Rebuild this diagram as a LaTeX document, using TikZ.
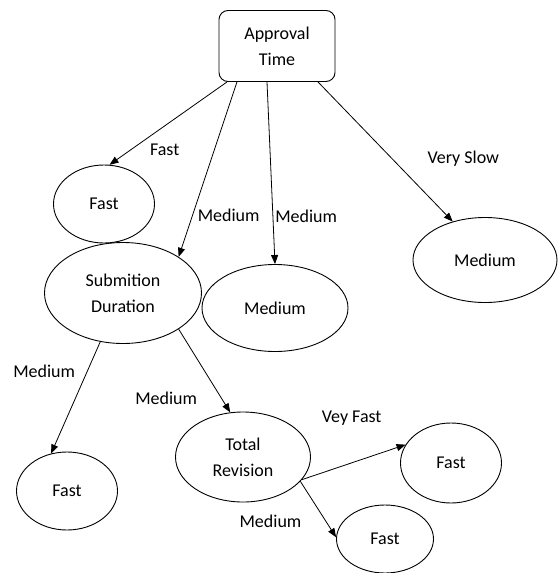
\documentclass[tikz,border=0pt]{standalone}
\usepackage{fontspec}
\setmainfont{Carlito}
\usepackage{tikz}
\usetikzlibrary{shapes.geometric, arrows.meta, positioning}

\begin{document}
\begin{tikzpicture}[
    node distance=1cm,
    top/.style={rectangle, rounded corners=9pt, minimum width=116pt, minimum height=71pt, align=center, draw=black, line width=0.9pt, font=\fontsize{18}{26}\selectfont},
    leaf/.style={ellipse, on grid, inner sep=0pt, align=center, draw=black, line width=0.9pt, font=\fontsize{18}{26}\selectfont},
    lbl/.style={inner sep=1pt, font=\fontsize{18}{22}\selectfont},
    arrow/.style={line width=0.8pt, -{Triangle[length=9pt, width=7pt]}}
]
    \useasboundingbox (0,0) rectangle (558pt,-573pt);
    \node[top] (approval) at (277pt,-46pt) {Approval\\Time};
    \node[leaf, minimum width=101pt, minimum height=78pt, below left=158pt and 173pt of approval] (fastA) {Fast};
    \node[leaf, minimum width=157pt, minimum height=101pt, below left=247pt and 154pt of approval] (subm) {Submition\\Duration};
    \node[leaf, minimum width=146pt, minimum height=87pt, below left=262pt and 2pt of approval] (medB) {Medium};
    \node[leaf, minimum width=144pt, minimum height=85pt, below right=214pt and 208pt of approval] (medC) {Medium};
    \node[leaf, minimum width=101pt, minimum height=78pt, below left=198pt and 56pt of subm] (fastD) {Fast};
    \node[leaf, minimum width=135pt, minimum height=90pt, below right=164pt and 120pt of subm] (total) {Total\\Revision};
    \node[leaf, minimum width=101pt, minimum height=80pt, below right=6pt and 208pt of total] (fastE) {Fast};
    \node[leaf, minimum width=97pt, minimum height=68pt, below right=82pt and 142pt of total] (fastF) {Fast};
    \draw[arrow] ([xshift=-50pt]approval.south) -- node[lbl, pos=0.82, right=18pt] {Fast} (fastA.82);
    \draw[arrow] ([xshift=-40pt]approval.south) -- node[lbl, pos=0.765, right=4pt] {Medium} (subm.33);
    \draw[arrow] ([xshift=-10pt]approval.south) -- node[lbl, pos=0.74, right=1pt] {Medium} (medB.north);
    \draw[arrow] ([xshift=41pt]approval.south) -- node[lbl, pos=0.55, right=34pt] {Very Slow} (medC.130);
    \draw[arrow] (subm.245) -- node[lbl, pos=0.26, left=11pt] {Medium} (fastD.113);
    \draw[arrow] (subm.327) -- node[lbl, pos=0.83, left=23pt] {Medium} (total.106);
    \draw[arrow] (total.339) -- node[lbl, pos=0.48, above=36pt] {Vey Fast} (fastE.158);
    \draw[arrow] (total.337) -- node[lbl, pos=0.71, left=23pt] {Medium} (fastF.178);
\end{tikzpicture}
\end{document}
